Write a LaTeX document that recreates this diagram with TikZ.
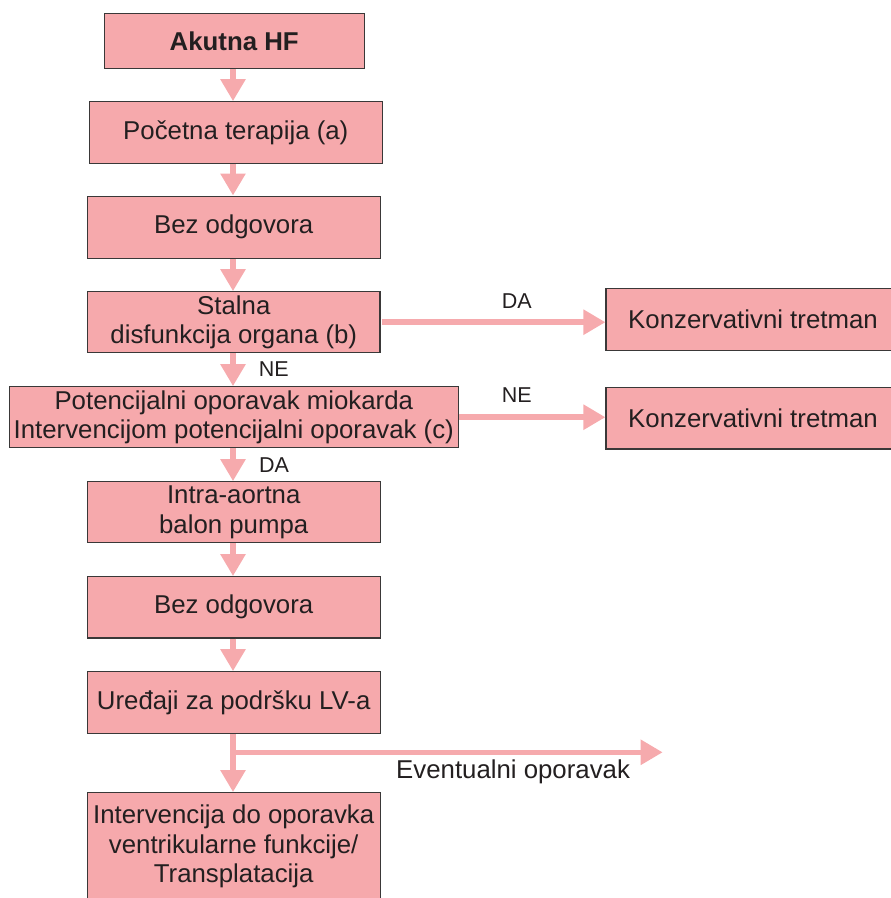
\documentclass[tikz,border=0pt]{standalone}
\usepackage{fontspec}
\setmainfont{Liberation Sans}
\usetikzlibrary{arrows.meta}
\definecolor{boxpink}{RGB}{246,169,172}
\definecolor{flowpink}{RGB}{246,170,173}
\definecolor{edgegray}{RGB}{58,56,56}
\definecolor{ink}{RGB}{35,31,32}

\begin{document}
\begin{tikzpicture}[x=1pt,y=-1pt,
  stepbox/.style={draw=edgegray, line width=1.1pt, fill=boxpink, inner sep=0pt,
    align=center, text=ink, font=\fontsize{25.8}{29.5}\selectfont},
  flow/.style={draw=flowpink, line width=5.6pt,
    -{Triangle[length=22pt,width=24pt,fill=flowpink]}},
  lbl/.style={text=ink, inner sep=0pt, font=\fontsize{21.5}{25}\selectfont},
  longlbl/.style={text=ink, inner sep=0pt, font=\fontsize{25.8}{29.5}\selectfont}]

\useasboundingbox (0,0) rectangle (891,898);

% main column
\node[stepbox, minimum width=259.7pt, minimum height=55pt] (akutna) at (234.2,40.8) {\textbf{Akutna HF}};
\node[stepbox, minimum width=293pt, minimum height=61.6pt] (pocetna) at (235.8,132.5) {Početna terapija (a)};
\node[stepbox, minimum width=292.7pt, minimum height=62.3pt] (bez1) at (233.7,227.2) {Bez odgovora};
\node[stepbox, minimum width=292.3pt, minimum height=61pt] (stalna) at (233.8,322.2) {Stalna\\disfunkcija organa (b)};
\node[stepbox, minimum width=449pt, minimum height=61pt] (potenc) at (233.8,417.2) {Potencijalni oporavak miokarda\\Intervencijom potencijalni oporavak (c)};
\node[stepbox, minimum width=292.7pt, minimum height=61pt] (intra) at (233.7,512.2) {Intra-aortna\\balon pumpa};
\node[stepbox, minimum width=292.7pt, minimum height=61.3pt] (bez2) at (233.7,607.3) {Bez odgovora};
\node[stepbox, minimum width=292.7pt, minimum height=61.6pt] (uredjaji) at (233.7,702.5) {Uređaji za podršku LV-a};
\node[stepbox, minimum width=292.7pt, minimum height=108.3pt] (interv) at (233.7,846.8) {Intervencija do oporavka\\ventrikularne funkcije/\\Transplatacija};

% side outcomes
\node[stepbox, minimum width=294pt, minimum height=61.7pt] (konz1) at (753,319.2) {Konzervativni tretman};
\node[stepbox, minimum width=294pt, minimum height=61.3pt] (konz2) at (753,418.3) {Konzervativni tretman};

% spine of the vertical flow
\coordinate (spine) at (233,0);
\coordinate (split) at (233,752.3);
\coordinate (evend) at (662.7,752.3);

\draw[flow] (akutna.south -| spine) -- (pocetna.north -| spine);
\draw[flow] (pocetna.south -| spine) -- (bez1.north -| spine);
\draw[flow] (bez1.south -| spine) -- (stalna.north -| spine);
\draw[flow] (stalna.south -| spine) -- (potenc.north -| spine);
\draw[flow] (potenc.south -| spine) -- (intra.north -| spine);
\draw[flow] (intra.south -| spine) -- (bez2.north -| spine);
\draw[flow] (bez2.south -| spine) -- (uredjaji.north -| spine);
\draw[flow] (uredjaji.south -| spine) -- (interv.north -| spine);

\draw[flow] ([xshift=1.5pt]stalna.east) -- (stalna.east -| konz1.west);
\draw[flow] (potenc.east) -- (potenc.east -| konz2.west);
\draw[flow] ([xshift=-2.8pt]split) -- (evend);

% branch labels
\node[lbl] (da1) at (516.7,301.2) {DA};
\node[lbl] (ne1) at (516.7,395) {NE};
\node[lbl] (ne2) at (273.8,368.8) {NE};
\node[lbl] (da2) at (274,465.5) {DA};
\node[longlbl, anchor=base west] (evlbl) at (396,778.3) {Eventualni oporavak};
\end{tikzpicture}
\end{document}
